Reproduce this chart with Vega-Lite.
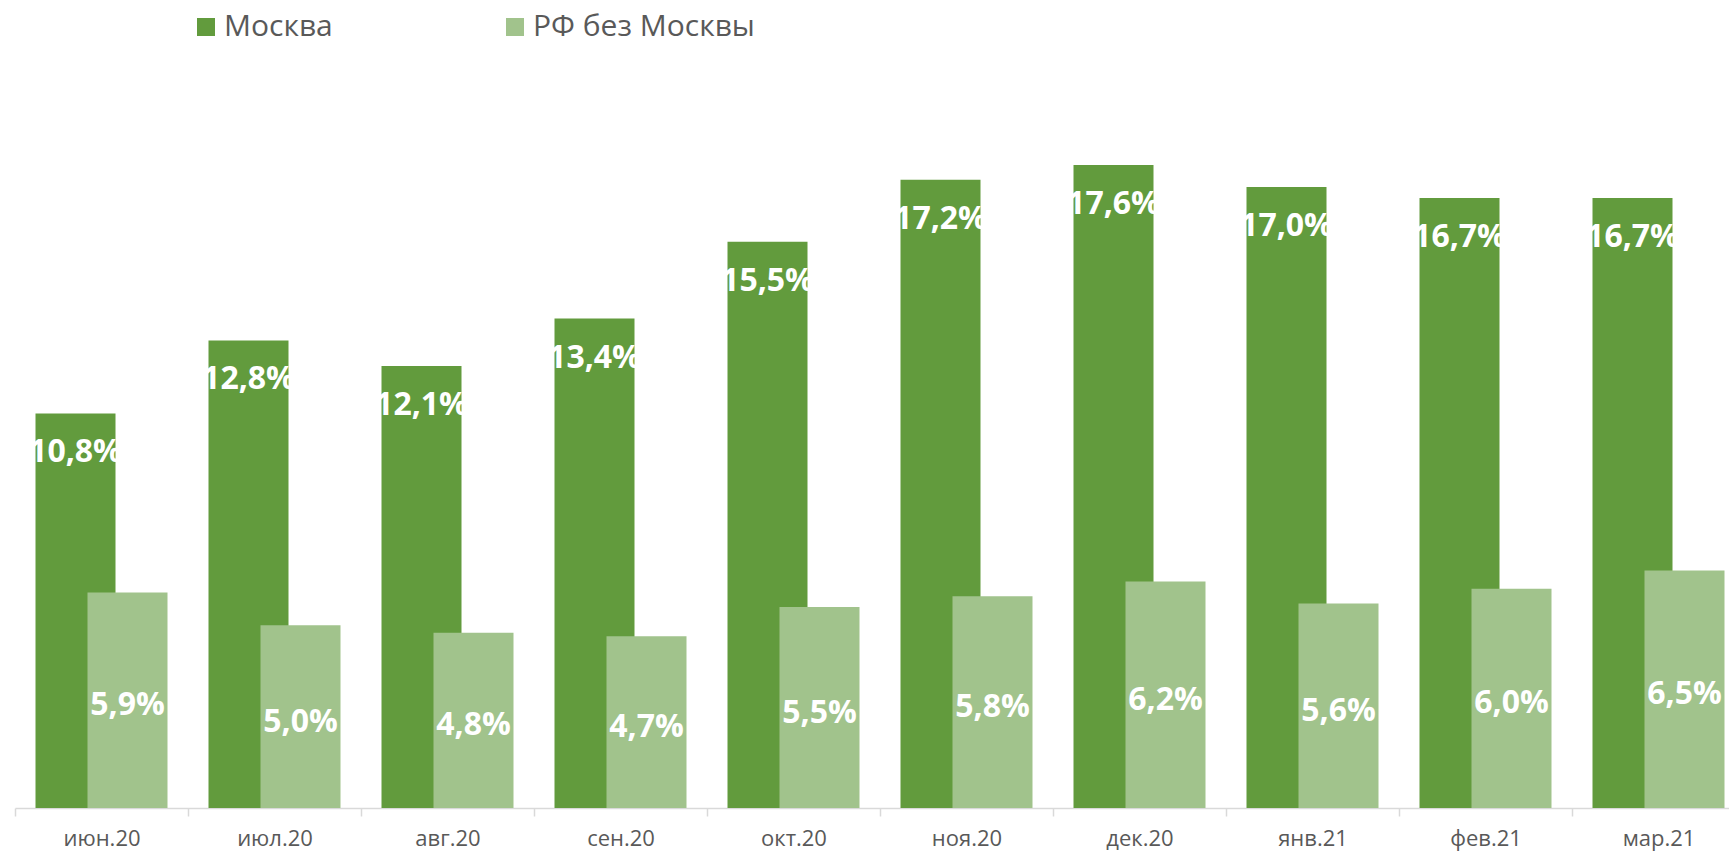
{
  "$schema": "https://vega.github.io/schema/vega-lite/v6.json",
  "width": 1714,
  "height": 800,
  "autosize": {"type": "none"},
  "padding": {"left": 15, "top": 8, "right": 0, "bottom": 44},
  "background": "white",
  "config": {
    "view": {"stroke": null},
    "font": "Open Sans",
    "locale": {"number": {"decimal": ",", "thousands": " ", "grouping": [3], "currency": ["", " ₽"]}}
  },
  "data": {
    "values": [
      {"month": "июн.20", "series": "Москва", "value": 0.108},
      {"month": "июл.20", "series": "Москва", "value": 0.128},
      {"month": "авг.20", "series": "Москва", "value": 0.121},
      {"month": "сен.20", "series": "Москва", "value": 0.134},
      {"month": "окт.20", "series": "Москва", "value": 0.155},
      {"month": "ноя.20", "series": "Москва", "value": 0.172},
      {"month": "дек.20", "series": "Москва", "value": 0.176},
      {"month": "янв.21", "series": "Москва", "value": 0.170},
      {"month": "фев.21", "series": "Москва", "value": 0.167},
      {"month": "мар.21", "series": "Москва", "value": 0.167},
      {"month": "июн.20", "series": "РФ без Москвы", "value": 0.059},
      {"month": "июл.20", "series": "РФ без Москвы", "value": 0.050},
      {"month": "авг.20", "series": "РФ без Москвы", "value": 0.048},
      {"month": "сен.20", "series": "РФ без Москвы", "value": 0.047},
      {"month": "окт.20", "series": "РФ без Москвы", "value": 0.055},
      {"month": "ноя.20", "series": "РФ без Москвы", "value": 0.058},
      {"month": "дек.20", "series": "РФ без Москвы", "value": 0.062},
      {"month": "янв.21", "series": "РФ без Москвы", "value": 0.056},
      {"month": "фев.21", "series": "РФ без Москвы", "value": 0.060},
      {"month": "мар.21", "series": "РФ без Москвы", "value": 0.065}
    ]
  },
  "encoding": {
    "x": {
      "field": "month",
      "type": "nominal",
      "sort": ["июн.20", "июл.20", "авг.20", "сен.20", "окт.20", "ноя.20", "дек.20", "янв.21", "фев.21", "мар.21"],
      "scale": {"range": [0, 1730], "paddingInner": 0, "paddingOuter": 0},
      "axis": {
        "title": null,
        "labelAngle": 0,
        "labelFont": "Open Sans",
        "labelFontSize": 22,
        "labelColor": "#595959",
        "labelPadding": 12,
        "domainColor": "#d9d9d9",
        "domainWidth": 1.5,
        "tickColor": "#d9d9d9",
        "tickWidth": 1.5,
        "tickSize": 8,
        "tickBand": "extent",
        "grid": false
      }
    }
  },
  "layer": [
    {
      "transform": [{"filter": "datum.series == 'Москва'"}],
      "mark": {"type": "bar", "size": 80, "xOffset": -26},
      "encoding": {
        "y": {"field": "value", "type": "quantitative", "scale": {"domain": [0, 0.219], "nice": false, "zero": true}, "axis": null},
        "color": {
          "field": "series",
          "type": "nominal",
          "scale": {"domain": ["Москва", "РФ без Москвы"], "range": ["#629b3d", "#a1c38c"]},
          "legend": {
            "title": null,
            "orient": "none",
            "direction": "horizontal",
            "legendX": 176,
            "legendY": 4,
            "symbolType": "square",
            "symbolSize": 324,
            "symbolStrokeWidth": 0,
            "labelFont": "Open Sans",
            "labelFontSize": 30,
            "labelColor": "#595959",
            "labelOffset": 3,
            "columnPadding": 167,
            "labelLimit": 400
          }
        }
      }
    },
    {
      "transform": [{"filter": "datum.series == 'РФ без Москвы'"}],
      "mark": {"type": "bar", "size": 80, "xOffset": 26},
      "encoding": {
        "y": {"field": "value", "type": "quantitative", "scale": {"domain": [0, 0.219], "nice": false, "zero": true}, "axis": null},
        "color": {"field": "series", "type": "nominal"}
      }
    },
    {
      "transform": [{"filter": "datum.series == 'Москва'"}],
      "mark": {"type": "text", "xOffset": -26, "dy": 39, "baseline": "middle", "align": "center", "color": "white", "font": "Open Sans", "fontWeight": "bold", "fontSize": 32},
      "encoding": {
        "y": {"field": "value", "type": "quantitative", "scale": {"domain": [0, 0.219], "nice": false, "zero": true}, "axis": null},
        "text": {"field": "value", "type": "quantitative", "format": ".1%"}
      }
    },
    {
      "transform": [{"filter": "datum.series == 'РФ без Москвы'"}],
      "mark": {"type": "text", "xOffset": 26, "dy": 5, "baseline": "middle", "align": "center", "color": "white", "font": "Open Sans", "fontWeight": "bold", "fontSize": 32},
      "encoding": {
        "y": {"field": "value", "type": "quantitative", "scale": {"domain": [0, 0.438], "nice": false, "zero": true}, "axis": null},
        "text": {"field": "value", "type": "quantitative", "format": ".1%"}
      }
    }
  ],
  "resolve": {"scale": {"y": "independent"}}
}
